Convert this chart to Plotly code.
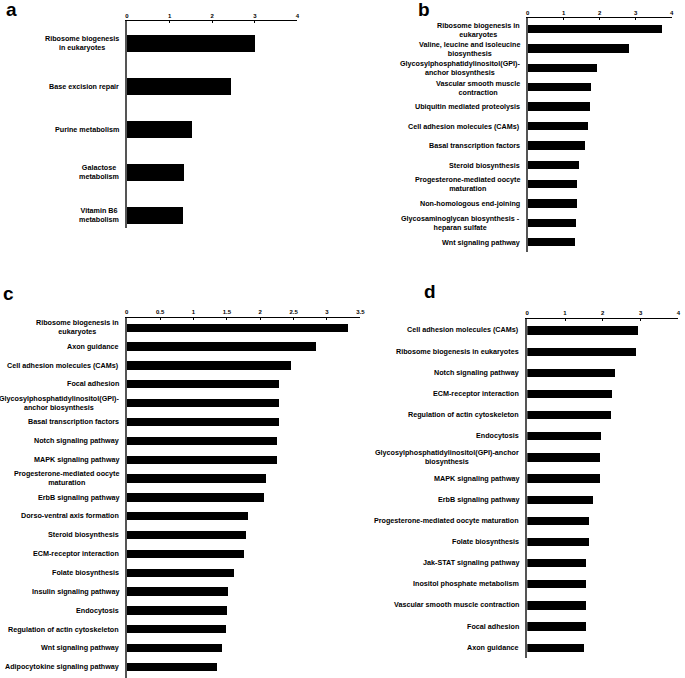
import plotly.graph_objects as go

W, H = 685, 678

# ---------------- data ----------------
a_terms = ["Ribosome biogenesis<br>in eukaryotes", "Base excision repair", "Purine metabolism",
           "Galactose<br>metabolism", "Vitamin B6<br>metabolism"]
a_values = [3.01, 2.45, 1.53, 1.34, 1.31]

b_terms = ["Ribosome biogenesis in<br>eukaryotes", "Valine, leucine and isoleucine<br>biosynthesis",
           "Glycosylphosphatidylinositol(GPI)-<br>anchor biosynthesis", "Vascular smooth muscle<br>contraction",
           "Ubiquitin mediated proteolysis", "Cell adhesion molecules (CAMs)", "Basal transcription factors",
           "Steroid biosynthesis", "Progesterone-mediated oocyte<br>maturation", "Non-homologous end-joining",
           "Glycosaminoglycan biosynthesis -<br>heparan sulfate", "Wnt signaling pathway"]
b_values = [3.73, 2.79, 1.90, 1.75, 1.71, 1.66, 1.58, 1.42, 1.36, 1.36, 1.32, 1.31]

c_terms = ["Ribosome biogenesis in<br>eukaryotes", "Axon guidance", "Cell adhesion molecules (CAMs)",
           "Focal adhesion", "Glycosylphosphatidylinositol(GPI)-<br>anchor biosynthesis",
           "Basal transcription factors", "Notch signaling pathway", "MAPK signaling pathway",
           "Progesterone-mediated oocyte<br>maturation", "ErbB signaling pathway",
           "Dorso-ventral axis formation", "Steroid biosynthesis", "ECM-receptor interaction",
           "Folate biosynthesis", "Insulin signaling pathway", "Endocytosis",
           "Regulation of actin cytoskeleton", "Wnt signaling pathway", "Adipocytokine signaling pathway"]
c_values = [3.31, 2.83, 2.45, 2.28, 2.27, 2.27, 2.25, 2.25, 2.09, 2.05, 1.82, 1.79, 1.76, 1.60,
            1.51, 1.50, 1.48, 1.43, 1.35]

d_terms = ["Cell adhesion molecules (CAMs)", "Ribosome biogenesis in eukaryotes", "Notch signaling pathway",
           "ECM-receptor interaction", "Regulation of actin cytoskeleton", "Endocytosis",
           "Glycosylphosphatidylinositol(GPI)-anchor<br>biosynthesis", "MAPK signaling pathway",
           "ErbB signaling pathway", "Progesterone-mediated oocyte maturation", "Folate biosynthesis",
           "Jak-STAT signaling pathway", "Inositol phosphate metabolism",
           "Vascular smooth muscle contraction", "Focal adhesion", "Axon guidance"]
d_values = [2.95, 2.88, 2.32, 2.26, 2.22, 1.97, 1.94, 1.93, 1.76, 1.64, 1.64, 1.57, 1.57, 1.57,
            1.57, 1.52]

a_ticks = [0, 1, 2, 3, 4]
b_ticks = [0, 1, 2, 3, 4]
c_ticks = [0, 0.5, 1, 1.5, 2, 2.5, 3, 3.5]
d_ticks = [0, 1, 2, 3, 4]

panel_letters = ["a", "b", "c", "d"]

# ---------------- layout geometry (pixels) ----------------
FONT = "Liberation Sans, Arial, sans-serif"
panels = [
    dict(terms=a_terms, vals=a_values, ticks=a_ticks, x0=126.3, x1=298.5, xmax=4,
         T=21.3, B=227.5, C1=43.4, s=43.0, bw=0.40),
    dict(terms=b_terms, vals=b_values, ticks=b_ticks, x0=531.0, x1=676.7, xmax=4,
         T=18.3, B=252.0, C1=29.5, s=19.36, bw=0.43),
    dict(terms=c_terms, vals=c_values, ticks=c_ticks, x0=126.0, x1=362.0, xmax=3.5,
         T=317.7, B=678.0, C1=327.4, s=18.85, bw=0.44),
    dict(terms=d_terms, vals=d_values, ticks=d_ticks, x0=530.7, x1=683.3, xmax=4,
         T=318.5, B=658.0, C1=330.0, s=21.15, bw=0.39),
]

fig = go.Figure()
annotations = []
layout = dict(width=W, height=H, margin=dict(l=0, r=0, t=0, b=0),
              paper_bgcolor="white", plot_bgcolor="white", showlegend=False,
              bargap=0)

for i, p in enumerate(panels, start=1):
    sx = "" if i == 1 else str(i)
    xa, ya = "x" + sx, "y" + sx
    fig.add_trace(go.Bar(x=p["vals"], y=p["terms"], orientation="h", xaxis=xa, yaxis=ya,
                         marker=dict(color="black", line=dict(width=0)), width=p["bw"],
                         hoverinfo="x+y"))
    r_bottom = (p["B"] - p["C1"]) / p["s"]
    r_top = -(p["C1"] - p["T"]) / p["s"]
    layout["xaxis" + sx] = dict(
        domain=[p["x0"] / W, p["x1"] / W], range=[0, p["xmax"]], anchor=ya, side="top",
        tickvals=p["ticks"], ticktext=[f"{t:g}" for t in p["ticks"]],
        tickfont=dict(family=FONT, size=6, color="black", weight="bold"),
        ticklabeloverflow="allow",
        ticks="inside", ticklen=2, tickwidth=1, tickcolor="black",
        showline=True, linecolor="black", linewidth=1, showgrid=False, zeroline=False,
        fixedrange=True)
    layout["yaxis" + sx] = dict(
        domain=[1 - p["B"] / H, 1 - p["T"] / H], anchor=xa, type="category",
        categoryorder="array", categoryarray=p["terms"], range=[r_bottom, r_top],
        showticklabels=False, ticks="", showline=True, linecolor="#555555", linewidth=2,
        showgrid=False, zeroline=False, fixedrange=True)
    for term in p["terms"]:
        annotations.append(dict(
            x=(p["x0"] - 6) / W, xref="paper", xanchor="right", y=term, yref=ya,
            yanchor="middle", text=term, showarrow=False, align="center",
            font=dict(family=FONT, size=7.2, color="black", weight="bold")))

letter_pos = [(10, 10), (426, 10), (7, 293), (432, 291)]
for letter, (lx, ly) in zip(panel_letters, letter_pos):
    annotations.append(dict(x=lx / W, y=1 - ly / H, xref="paper", yref="paper",
                            xanchor="center", yanchor="middle", text=letter, showarrow=False,
                            font=dict(family=FONT, size=19, color="black", weight="bold")))

layout["annotations"] = annotations
fig.update_layout(**layout)
fig.write_html("out.html", config={"displayModeBar": False},
               post_script="document.body.style.margin='0';document.body.style.overflow='hidden';")
